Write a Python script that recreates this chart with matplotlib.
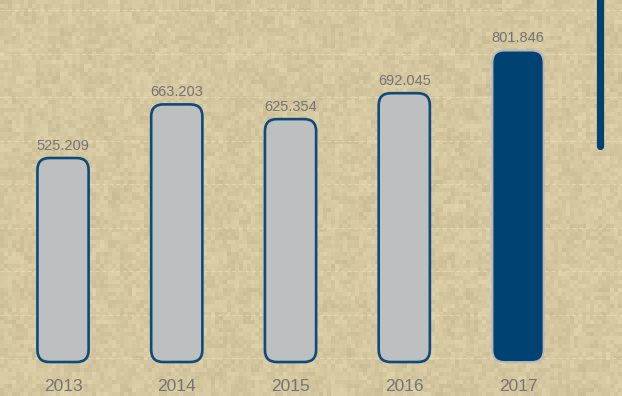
import matplotlib
matplotlib.use("Agg")
import matplotlib.pyplot as plt
import numpy as np
from matplotlib.patches import FancyBboxPatch

# data
years = ["2013", "2014", "2015", "2016", "2017"]
values = [525.209, 663.203, 625.354, 692.045, 801.846]
valueLabels = ["525.209", "663.203", "625.354", "692.045", "801.846"]

plt.rcParams['font.family'] = ['Liberation Sans', 'DejaVu Sans']

fig = plt.figure(figsize=(6.22, 3.96), dpi=100)
ax = fig.add_axes([0, 0, 1, 1])
xMin, xMax = -0.554, 4.914
yMin, yMax = -87.5, 932
ax.set_xlim(xMin, xMax)
ax.set_ylim(yMin, yMax)

# 背景纹理（确定性的伪噪声，不是数据）
rows, cols = 99, 156
ii, jj = np.meshgrid(np.arange(rows), np.arange(cols), indexing='ij')
noise = np.sin(ii * 12.9898 + jj * 78.233) * 43758.5453
noise = noise - np.floor(noise)
# 粗一点的斑驳
coarse = np.sin((ii // 3) * 4.1414 + (jj // 3) * 27.731) * 24634.6345
coarse = coarse - np.floor(coarse)
mix = 0.65 * noise + 0.35 * coarse
base = np.array([213, 199, 160]) / 255.0
tex = base[None, None, :] + (mix[..., None] - 0.5) * 0.09
tex = np.clip(tex, 0, 1)
ax.imshow(tex, extent=(xMin, xMax, yMin, yMax), aspect='auto',
          interpolation='nearest', zorder=0)

# 淡色虚线网格
for gy in np.arange(906, 0, -112):
  ax.axhline(gy, color='#ece2c4', lw=0.7, ls=(0, (4, 3)), alpha=0.55, zorder=1)

# 圆角柱子
barWidth = 0.45
bars = ax.bar(range(len(values)), values, width=barWidth, alpha=0)
xPx = fig.get_figwidth() * fig.dpi / (xMax - xMin)
yPx = fig.get_figheight() * fig.dpi / (yMax - yMin)
radius = 12 / xPx
aspect = xPx / yPx
for i, b in enumerate(bars):
  if i == len(bars) - 1:
    fc, ec, lw = '#004373', '#b4b8bc', 1.4
  else:
    fc, ec, lw = '#bebfc1', '#0d4b7b', 1.9
  patch = FancyBboxPatch((b.get_x(), b.get_y()), b.get_width(), b.get_height(),
                         boxstyle=f"round,pad=0,rounding_size={radius}",
                         mutation_aspect=aspect, fc=fc, ec=ec, lw=lw, zorder=3)
  ax.add_patch(patch)
  ax.text(b.get_x() + b.get_width() / 2, values[i] + 14, valueLabels[i],
          ha='center', va='bottom', fontsize=10.5, color='#747474', zorder=4)
  ax.text(b.get_x() + b.get_width() / 2, -63, years[i],
          ha='center', va='center', fontsize=12.5, color='#747474', zorder=4)

# 右上角竖线
ax.plot([0.965, 0.965], [1.02, 0.632], transform=ax.transAxes, color='#00426f',
        lw=5.2, solid_capstyle='round', zorder=4)

ax.axis('off')
fig.savefig("out.png", dpi=100)
